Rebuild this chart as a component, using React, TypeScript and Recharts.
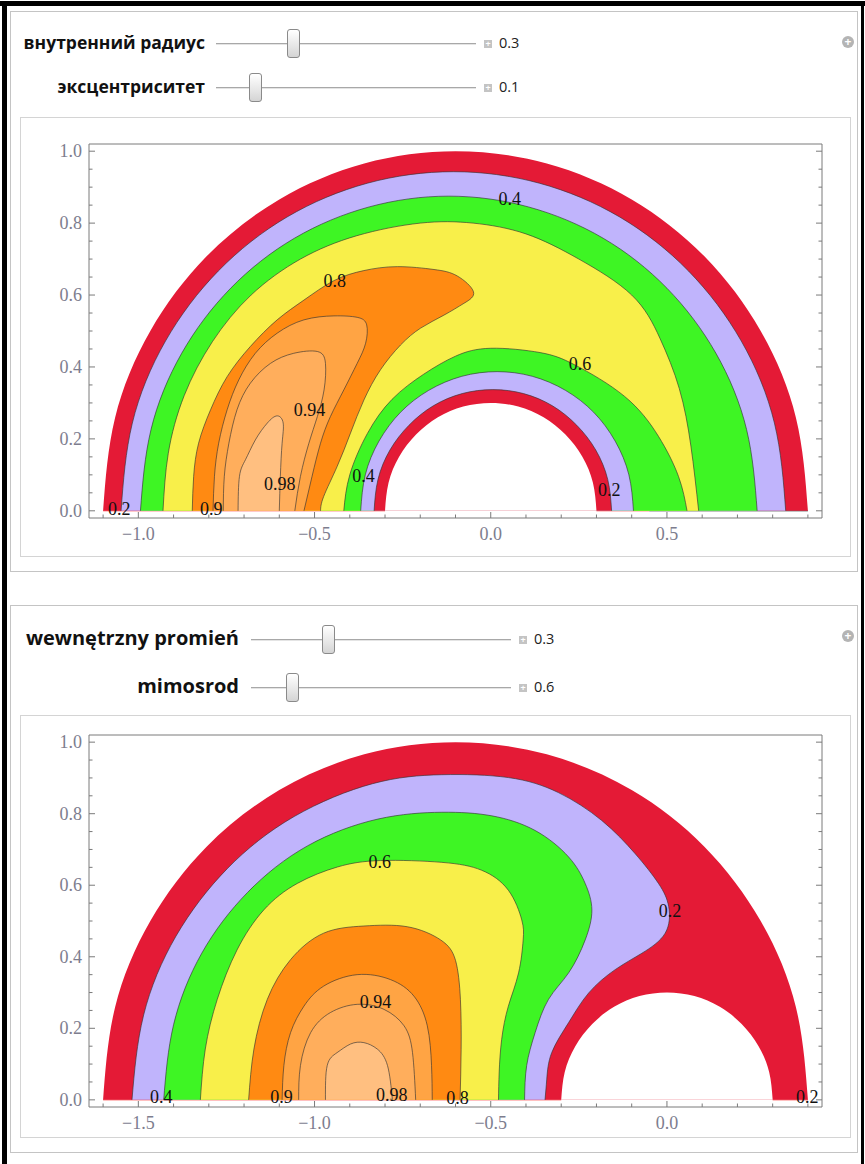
import React from "react";
import { ComposedChart, Scatter, XAxis, YAxis, Curve, ReferenceLine } from "recharts";

type Pt = [number, number];

// ---- panel 1: inner radius 0.3, eccentricity 0.1 ----
const outer1: Pt[] = [[-1.1, 0], [-1.066, 0.259], [-0.966, 0.5], [-0.807, 0.707], [-0.6, 0.866], [-0.359, 0.966], [-0.1, 1.0], [0.159, 0.966], [0.4, 0.866], [0.607, 0.707], [0.766, 0.5], [0.866, 0.259], [0.9, 0]];
const lvl02out1: Pt[] = [[-1.049, 0], [-1.017, 0.244], [-0.923, 0.472], [-0.773, 0.667], [-0.578, 0.817], [-0.35, 0.911], [-0.106, 0.943], [0.138, 0.911], [0.366, 0.817], [0.561, 0.667], [0.711, 0.472], [0.805, 0.244], [0.837, 0]];
const lvl04out1: Pt[] = [[-0.994, 0], [-0.964, 0.226], [-0.877, 0.438], [-0.738, 0.619], [-0.557, 0.758], [-0.345, 0.845], [-0.119, 0.875], [0.107, 0.845], [0.319, 0.758], [0.5, 0.619], [0.639, 0.438], [0.726, 0.226], [0.756, 0]];
const lvl06out1: Pt[] = [[-0.93, 0], [-0.915, 0.16], [-0.87, 0.32], [-0.79, 0.47], [-0.68, 0.6], [-0.54, 0.7], [-0.38, 0.765], [-0.2, 0.8], [-0.05, 0.8], [0.1, 0.77], [0.25, 0.7], [0.4, 0.6], [0.48, 0.48], [0.535, 0.34], [0.568, 0.18], [0.59, 0]];
const lvl06in1: Pt[] = [[-0.417, 0], [-0.4, 0.1], [-0.35, 0.215], [-0.28, 0.31], [-0.19, 0.38], [-0.1, 0.43], [0.0, 0.452], [0.14, 0.44], [0.24, 0.405], [0.38, 0.318], [0.476, 0.207], [0.533, 0.095], [0.557, 0]];
const lvl04in1: Pt[] = [[-0.369, 0], [-0.356, 0.1], [-0.317, 0.194], [-0.256, 0.274], [-0.176, 0.335], [-0.082, 0.374], [0.018, 0.387], [0.118, 0.374], [0.212, 0.335], [0.292, 0.274], [0.353, 0.194], [0.392, 0.1], [0.405, 0]];
const lvl02in1: Pt[] = [[-0.331, 0], [-0.32, 0.087], [-0.286, 0.169], [-0.232, 0.238], [-0.163, 0.292], [-0.081, 0.326], [0.006, 0.337], [0.093, 0.326], [0.175, 0.292], [0.244, 0.238], [0.298, 0.169], [0.332, 0.087], [0.343, 0]];
const hole: Pt[] = [[-0.3, 0], [-0.29, 0.078], [-0.26, 0.15], [-0.212, 0.212], [-0.15, 0.26], [-0.078, 0.29], [0, 0.3], [0.078, 0.29], [0.15, 0.26], [0.212, 0.212], [0.26, 0.15], [0.29, 0.078], [0.3, 0]];
const lvl08_1: Pt[] = [[-0.847, 0], [-0.843, 0.096], [-0.829, 0.188], [-0.795, 0.281], [-0.748, 0.373], [-0.682, 0.457], [-0.606, 0.531], [-0.53, 0.586], [-0.445, 0.64], [-0.36, 0.668], [-0.265, 0.679], [-0.161, 0.671], [-0.095, 0.653], [-0.049, 0.609], [-0.076, 0.577], [-0.133, 0.544], [-0.199, 0.508], [-0.256, 0.461], [-0.313, 0.392], [-0.36, 0.308], [-0.398, 0.216], [-0.436, 0.123], [-0.474, 0.04], [-0.483, 0]];
const lvl09_1: Pt[] = [[-0.788, 0], [-0.784, 0.096], [-0.772, 0.188], [-0.748, 0.281], [-0.715, 0.364], [-0.668, 0.438], [-0.606, 0.494], [-0.53, 0.531], [-0.445, 0.542], [-0.379, 0.538], [-0.352, 0.517], [-0.355, 0.466], [-0.379, 0.41], [-0.417, 0.336], [-0.455, 0.262], [-0.483, 0.188], [-0.507, 0.096], [-0.53, 0]];
const lvl094_1: Pt[] = [[-0.759, 0], [-0.756, 0.096], [-0.743, 0.188], [-0.72, 0.281], [-0.682, 0.355], [-0.625, 0.41], [-0.559, 0.438], [-0.492, 0.443], [-0.469, 0.41], [-0.473, 0.336], [-0.492, 0.262], [-0.516, 0.188], [-0.54, 0.096], [-0.556, 0]];
const lvl098_1: Pt[] = [[-0.717, 0], [-0.713, 0.096], [-0.696, 0.142], [-0.668, 0.197], [-0.634, 0.244], [-0.606, 0.264], [-0.589, 0.244], [-0.592, 0.188], [-0.597, 0.096], [-0.6, 0]];
const labels1: [string, number, number][] = [["0.2", -1.054, 0.005], ["0.9", -0.793, 0.005], ["0.98", -0.599, 0.075], ["0.94", -0.514, 0.279], ["0.8", -0.443, 0.64], ["0.4", 0.054, 0.868], ["0.6", 0.253, 0.408], ["0.4", -0.361, 0.098], ["0.2", 0.336, 0.057]];
const xMajor1 = [-1, -0.5, 0, 0.5];
const xMinor1 = [-1.1, -0.9, -0.8, -0.7, -0.6, -0.4, -0.3, -0.2, -0.1, 0.1, 0.2, 0.3, 0.4, 0.6, 0.7, 0.8, 0.9];

// ---- panel 2: inner radius 0.3, eccentricity 0.6 ----
const outer2: Pt[] = [[-1.6, 0], [-1.566, 0.259], [-1.466, 0.5], [-1.307, 0.707], [-1.1, 0.866], [-0.859, 0.966], [-0.6, 1.0], [-0.341, 0.966], [-0.1, 0.866], [0.107, 0.707], [0.266, 0.5], [0.366, 0.259], [0.4, 0]];
const lvl02_2: Pt[] = [[-1.518, 0], [-1.485, 0.237], [-1.393, 0.458], [-1.247, 0.647], [-1.058, 0.792], [-0.835, 0.884], [-0.639, 0.909], [-0.45, 0.901], [-0.308, 0.859], [-0.185, 0.781], [-0.09, 0.688], [-0.024, 0.605], [0.005, 0.54], [-0.005, 0.466], [-0.071, 0.41], [-0.147, 0.364], [-0.222, 0.299], [-0.279, 0.216], [-0.327, 0.132], [-0.341, 0.058], [-0.346, 0]];
const lvl04_2: Pt[] = [[-1.428, 0], [-1.4, 0.21], [-1.32, 0.41], [-1.19, 0.58], [-1.02, 0.71], [-0.82, 0.785], [-0.639, 0.804], [-0.497, 0.794], [-0.374, 0.753], [-0.279, 0.679], [-0.232, 0.605], [-0.213, 0.531], [-0.232, 0.447], [-0.279, 0.355], [-0.336, 0.281], [-0.374, 0.188], [-0.398, 0.096], [-0.404, 0]];
const lvl06_2: Pt[] = [[-1.324, 0], [-1.31, 0.142], [-1.276, 0.281], [-1.22, 0.419], [-1.144, 0.531], [-1.049, 0.605], [-0.935, 0.651], [-0.8125, 0.669], [-0.639, 0.664], [-0.526, 0.642], [-0.45, 0.586], [-0.412, 0.503], [-0.408, 0.447], [-0.421, 0.355], [-0.45, 0.262], [-0.469, 0.169], [-0.476, 0.078], [-0.478, 0]];
const lvl08_2: Pt[] = [[-1.187, 0], [-1.172, 0.142], [-1.134, 0.281], [-1.068, 0.392], [-0.974, 0.466], [-0.86, 0.486], [-0.737, 0.484], [-0.642, 0.447], [-0.6, 0.39], [-0.586, 0.28], [-0.584, 0.14], [-0.587, 0]];
const lvl09_2: Pt[] = [[-1.092, 0], [-1.087, 0.096], [-1.068, 0.188], [-1.03, 0.262], [-0.974, 0.318], [-0.879, 0.35], [-0.784, 0.336], [-0.718, 0.29], [-0.68, 0.207], [-0.668, 0.096], [-0.666, 0]];
const lvl094_2: Pt[] = [[-1.045, 0], [-1.04, 0.096], [-1.011, 0.188], [-0.955, 0.244], [-0.879, 0.267], [-0.803, 0.253], [-0.746, 0.207], [-0.722, 0.132], [-0.713, 0]];
const lvl098_2: Pt[] = [[-0.969, 0], [-0.964, 0.096], [-0.936, 0.132], [-0.898, 0.156], [-0.86, 0.16], [-0.822, 0.142], [-0.793, 0.096], [-0.779, 0]];
const labels2: [string, number, number][] = [["0.4", -1.435, 0.007], ["0.9", -1.094, 0.007], ["0.98", -0.781, 0.013], ["0.8", -0.594, 0.005], ["0.2", 0.398, 0.007], ["0.6", -0.815, 0.665], ["0.94", -0.827, 0.274], ["0.2", 0.009, 0.527]];
const xMajor2 = [-1.5, -1, -0.5, 0];
const xMinor2 = [-1.6, -1.4, -1.3, -1.2, -1.1, -0.9, -0.8, -0.7, -0.6, -0.4, -0.3, -0.2, -0.1, 0.1, 0.2, 0.3, 0.4];

const yMajor = [0, 0.2, 0.4, 0.6, 0.8, 1];
const yMinor = [0.05, 0.1, 0.15, 0.25, 0.3, 0.35, 0.45, 0.5, 0.55, 0.65, 0.7, 0.75, 0.85, 0.9, 0.95];

// baseline edge segments [x0, x1, colour]
const base1: [number, number, string][] = [[-1.1, -0.3, "#ff4a4a"], [0.3, 0.45, "#ff4a4a"], [0.45, 0.9, "#333333"]];
const base2: [number, number, string][] = [[-1.6, -0.3, "#ff4a4a"], [0.3, 0.4, "#ff4a4a"]];

const RED = "#e41a36";
const LAV = "#c0b4fc";
const GREEN = "#3ef524";
const YELLOW = "#f8ef4a";
const ORANGE = "#ff8a12";
const OR2 = "#ffa444";
const OR3 = "#ffae5c";
const OR4 = "#ffbf80";
const FRAME = "#7a7a7a";
const TICKTXT = "#7d7d8e";

type Layer = { pts: Pt[]; fill: string; edge: boolean };

const layers1: Layer[] = [
  { pts: outer1, fill: RED, edge: false },
  { pts: lvl02out1, fill: LAV, edge: true },
  { pts: lvl04out1, fill: GREEN, edge: true },
  { pts: lvl06out1, fill: YELLOW, edge: true },
  { pts: lvl06in1, fill: GREEN, edge: true },
  { pts: lvl04in1, fill: LAV, edge: true },
  { pts: lvl02in1, fill: RED, edge: true },
  { pts: hole, fill: "#ffffff", edge: false },
  { pts: lvl08_1, fill: ORANGE, edge: true },
  { pts: lvl09_1, fill: OR2, edge: true },
  { pts: lvl094_1, fill: OR3, edge: true },
  { pts: lvl098_1, fill: OR4, edge: true },
];

const layers2: Layer[] = [
  { pts: outer2, fill: RED, edge: false },
  { pts: hole, fill: "#ffffff", edge: false },
  { pts: lvl02_2, fill: LAV, edge: true },
  { pts: lvl04_2, fill: GREEN, edge: true },
  { pts: lvl06_2, fill: YELLOW, edge: true },
  { pts: lvl08_2, fill: ORANGE, edge: true },
  { pts: lvl09_2, fill: OR2, edge: true },
  { pts: lvl094_2, fill: OR3, edge: true },
  { pts: lvl098_2, fill: OR4, edge: true },
];

const fmt = (v: number) => (v < 0 ? "\u2212" + Math.abs(v).toFixed(1) : v.toFixed(1));
const isIn = (list: number[], v: number) => list.some((m) => Math.abs(m - v) < 1e-6);
const tickFont = { fontFamily: "Liberation Serif, serif", fontSize: 18, fill: TICKTXT };

const bottomTick = (majors: number[]) => (p: any) => {
  const v = p.payload.value;
  const major = isIn(majors, v);
  return (
    <g>
      <line x1={p.x} x2={p.x} y1={p.y} y2={p.y - (major ? 6 : 3.5)} stroke={FRAME} />
      {major && (
        <text x={p.x} y={p.y + 16} textAnchor="middle" dominantBaseline="central" {...tickFont}>
          {fmt(v)}
        </text>
      )}
    </g>
  );
};
const topTick = (majors: number[]) => (p: any) => {
  const major = isIn(majors, p.payload.value);
  return <line x1={p.x} x2={p.x} y1={p.y} y2={p.y + (major ? 6 : 3.5)} stroke={FRAME} />;
};
const leftTick = (p: any) => {
  const v = p.payload.value;
  const major = isIn(yMajor, v);
  return (
    <g>
      <line x1={p.x} x2={p.x + (major ? 6 : 3.5)} y1={p.y} y2={p.y} stroke={FRAME} />
      {major && (
        <text x={p.x - 7} y={p.y} textAnchor="end" dominantBaseline="central" {...tickFont}>
          {fmt(v)}
        </text>
      )}
    </g>
  );
};
const rightTick = (p: any) => {
  const major = isIn(yMajor, p.payload.value);
  return <line x1={p.x} x2={p.x - (major ? 6 : 3.5)} y1={p.y} y2={p.y} stroke={FRAME} />;
};

const toData = (pts: Pt[]) => pts.map(([x, y]) => ({ x, y }));

function ContourPlot(props: {
  top: number;
  height: number;
  mTop: number;
  mBottom: number;
  xDomain: [number, number];
  xMajor: number[];
  xMinor: number[];
  layers: Layer[];
  labels: [string, number, number][];
  base: [number, number, string][];
}) {
  const { layers, labels, xMajor, xMinor, xDomain, base } = props;
  const xTicks = [...xMajor, ...xMinor].sort((a, b) => a - b);
  const yTicks = [...yMajor, ...yMinor].sort((a, b) => a - b);
  const labelData = labels.map(([t, x, y]) => ({ x, y, t }));
  return (
    <div style={{ position: "absolute", left: 20, top: props.top }}>
      <ComposedChart
        width={830}
        height={props.height}
        margin={{ top: props.mTop, right: 20, bottom: props.mBottom, left: 9 }}
      >
        <XAxis
          xAxisId={0}
          type="number"
          dataKey="x"
          domain={xDomain}
          allowDataOverflow
          ticks={xTicks}
          interval={0}
          tickSize={0}
          tickMargin={0}
          tickLine={false}
          axisLine={{ stroke: FRAME }}
          height={30}
          tick={bottomTick(xMajor)}
        />
        <XAxis
          xAxisId="top"
          orientation="top"
          type="number"
          domain={xDomain}
          allowDataOverflow
          ticks={xTicks}
          interval={0}
          tickSize={0}
          tickMargin={0}
          tickLine={false}
          axisLine={{ stroke: FRAME }}
          height={8}
          tick={topTick(xMajor)}
        />
        <YAxis
          yAxisId={0}
          type="number"
          dataKey="y"
          domain={[-0.02, 1.02]}
          allowDataOverflow
          ticks={yTicks}
          interval={0}
          tickSize={0}
          tickMargin={0}
          tickLine={false}
          axisLine={{ stroke: FRAME }}
          width={60}
          tick={leftTick}
        />
        <YAxis
          yAxisId="right"
          orientation="right"
          type="number"
          domain={[-0.02, 1.02]}
          allowDataOverflow
          ticks={yTicks}
          interval={0}
          tickSize={0}
          tickMargin={0}
          tickLine={false}
          axisLine={{ stroke: FRAME }}
          width={8}
          tick={rightTick}
        />
        {layers.map((l, i) => (
          <Scatter
            key={"layer" + i}
            xAxisId={0}
            yAxisId={0}
            data={toData(l.pts)}
            fill={l.fill}
            isAnimationActive={false}
            legendType="none"
            shape={() => <g />}
            line={(lp: any) => (
              <Curve
                points={lp.points}
                type="natural"
                fill={l.fill}
                stroke={l.edge ? "#333333" : "none"}
                strokeOpacity={0.85}
                strokeWidth={0.75}
              />
            )}
          />
        ))}
        {base.map(([x0, x1, c], i) => (
          <ReferenceLine
            key={"base" + i}
            xAxisId={0}
            yAxisId={0}
            segment={[{ x: x0, y: 0 }, { x: x1, y: 0 }]}
            stroke={c}
            strokeWidth={1}
          />
        ))}
        <Scatter
          xAxisId={0}
          yAxisId={0}
          data={labelData}
          isAnimationActive={false}
          legendType="none"
          shape={(p: any) => (
            <text
              x={p.cx}
              y={p.cy}
              textAnchor="middle"
              dominantBaseline="central"
              fontFamily="Liberation Serif, serif"
              fontSize={18}
              fill="#111"
            >
              {p.payload.t}
            </text>
          )}
        />
      </ComposedChart>
    </div>
  );
}

const uiFont = "'Open Sans', 'DejaVu Sans', sans-serif";

function SliderRow(props: { y: number; labelRight: number; label: string; size: number; track: [number, number]; thumb: number; value: string }) {
  const { y, labelRight, label, size, track, thumb, value } = props;
  return (
    <>
      <div
        style={{
          position: "absolute",
          right: 865 - labelRight,
          top: y - 15,
          fontFamily: uiFont,
          fontWeight: 700,
          fontSize: size,
          lineHeight: "28px",
          color: "#111",
          whiteSpace: "nowrap",
        }}
      >
        {label}
      </div>
      <div style={{ position: "absolute", left: track[0], top: y, width: track[1] - track[0], height: 1, background: "#a8a8a8", borderBottom: "1px solid #e4e4e4" }} />
      <div
        style={{
          position: "absolute",
          left: thumb,
          top: y - 14,
          width: 13,
          height: 29,
          boxSizing: "border-box",
          border: "1px solid #8a8a8a",
          borderRadius: 3,
          background: "linear-gradient(to bottom, #ffffff, #e6e6e6 60%, #d4d4d4)",
        }}
      />
      <div
        style={{
          position: "absolute",
          left: track[1] + 8,
          top: y - 3,
          width: 8,
          height: 8,
          background: "#c4c4c4",
          color: "#fff",
          fontSize: 9,
          lineHeight: "8px",
          textAlign: "center",
          fontFamily: uiFont,
          fontWeight: 700,
        }}
      >
        +
      </div>
      <div style={{ position: "absolute", left: track[1] + 23, top: y - 10, fontFamily: uiFont, fontSize: 14.5, lineHeight: "20px", color: "#222" }}>
        {value}
      </div>
    </>
  );
}

function CirclePlus({ y }: { y: number }) {
  return (
    <div
      style={{
        position: "absolute",
        left: 842,
        top: y - 6,
        width: 12,
        height: 12,
        borderRadius: 6,
        background: "#b4b4b4",
        color: "#fff",
        fontFamily: uiFont,
        fontWeight: 700,
        fontSize: 12,
        lineHeight: "12px",
        textAlign: "center",
      }}
    >
      +
    </div>
  );
}

const box = (left: number, top: number, right: number, bottom: number, color: string) => (
  <div
    style={{
      position: "absolute",
      left,
      top,
      width: right - left,
      height: bottom - top,
      boxSizing: "border-box",
      border: "1px solid " + color,
      background: "#fff",
    }}
  />
);

export default function App() {
  return (
    <div
      style={{
        position: "absolute",
        left: 0,
        top: 0,
        width: 865,
        height: 1164,
        background: "#fff",
        overflow: "hidden",
      }}
    >
      <div style={{ position: "absolute", left: 0, top: 1, width: 865, height: 5, background: "#000" }} />
      <div style={{ position: "absolute", left: 2, top: 1, width: 5, height: 1163, background: "#000" }} />
      <div style={{ position: "absolute", left: 861, top: 1, width: 3, height: 1163, background: "#000" }} />

      {box(10, 11, 858, 572, "#c4c4c4")}
      {box(20, 117, 851, 557, "#d4d4d4")}
      <SliderRow y={43} labelRight={205} label="внутренний радиус" size={17.5} track={[216, 476]} thumb={287} value="0.3" />
      <SliderRow y={87} labelRight={205} label="эксцентриситет" size={17.5} track={[216, 476]} thumb={249} value="0.1" />
      <CirclePlus y={42} />
      <ContourPlot
        top={117}
        height={440}
        mTop={19}
        mBottom={9}
        xDomain={[-1.14, 0.94]}
        xMajor={xMajor1}
        xMinor={xMinor1}
        layers={layers1}
        labels={labels1}
        base={base1}
      />

      {box(10, 605, 858, 1153, "#c4c4c4")}
      {box(20, 715, 851, 1138, "#d4d4d4")}
      <SliderRow y={639} labelRight={239} label="wewnętrzny promień" size={20} track={[251, 511]} thumb={322} value="0.3" />
      <SliderRow y={687} labelRight={239} label="mimosrod" size={20} track={[251, 511]} thumb={286} value="0.6" />
      <CirclePlus y={636} />
      <ContourPlot
        top={715}
        height={423}
        mTop={12}
        mBottom={1}
        xDomain={[-1.64, 0.44]}
        xMajor={xMajor2}
        xMinor={xMinor2}
        layers={layers2}
        labels={labels2}
        base={base2}
      />
    </div>
  );
}
